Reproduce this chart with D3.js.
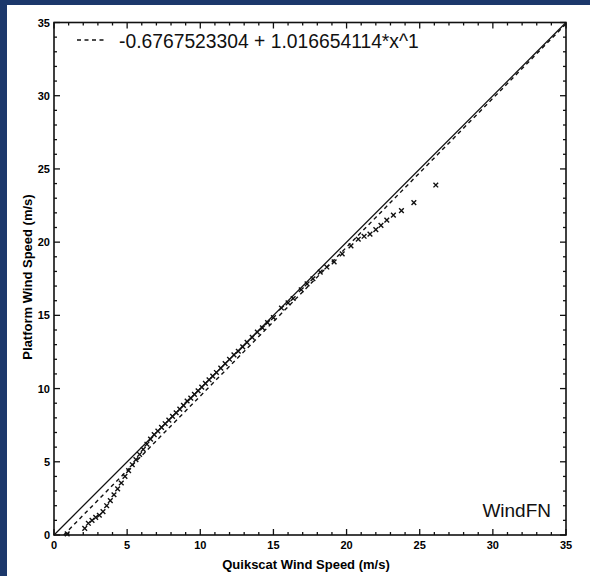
<!DOCTYPE html>
<html>
<head>
<meta charset="utf-8">
<script src="https://cdn.jsdelivr.net/npm/d3@7"></script>
<style>
  html, body { margin: 0; padding: 0; background: #1c386b; }
  svg { display: block; }
  .tick-label { font-family: "Liberation Sans", Arial, sans-serif; font-weight: bold; font-size: 11px; }
  .axis-title { font-family: "Liberation Sans", Arial, sans-serif; font-weight: bold; font-size: 13px; }
</style>
</head>
<body>
<svg id="chart" width="590" height="576"></svg>
<script>
// fit coefficients
var intercept = -0.6767523304;
var slope = 1.016654114;
var legendText = "-0.6767523304 + 1.016654114*x^1";

var xTicks = [0, 5, 10, 15, 20, 25, 30, 35];
var yTicks = [0, 5, 10, 15, 20, 25, 30, 35];

// quikscat speed vs platform speed (matched points)
var quikscat = [0.9, 2.1, 2.35, 2.6, 2.85, 3.1, 3.35, 3.6, 3.85, 4.1, 4.35, 4.6, 4.85, 5.1, 5.35,
  5.6, 5.85, 6.1, 6.35, 6.6, 6.85, 7.1, 7.35, 7.6, 7.85, 8.1, 8.35, 8.6, 8.85, 9.1, 9.35,
  9.6, 9.85, 10.1, 10.35, 10.6, 10.85, 11.1, 11.4, 11.7, 12.0, 12.3, 12.6, 12.9, 13.2, 13.55,
  13.9, 14.25, 14.6, 15.0, 15.55, 16.0, 16.35, 16.9, 17.3, 17.7, 18.2, 18.65, 19.15, 19.7,
  20.3, 20.8, 21.2, 21.6, 22.0, 22.35, 22.75, 23.2, 23.75, 24.6, 26.1];
var platform = [0.08, 0.45, 0.8, 1.0, 1.2, 1.35, 1.6, 2.0, 2.35, 2.75, 3.15, 3.55, 4.0, 4.4, 4.8,
  5.15, 5.5, 5.85, 6.2, 6.55, 6.85, 7.1, 7.35, 7.6, 7.85, 8.1, 8.35, 8.6, 8.85, 9.15, 9.35,
  9.6, 9.85, 10.1, 10.35, 10.6, 10.85, 11.1, 11.4, 11.7, 12.0, 12.3, 12.55, 12.85, 13.15, 13.5,
  13.85, 14.15, 14.5, 14.85, 15.5, 15.85, 16.15, 16.75, 17.15, 17.5, 17.95, 18.3, 18.65, 19.2,
  19.75, 20.2, 20.4, 20.55, 20.85, 21.15, 21.5, 21.85, 22.15, 22.7, 23.9];

var svg = d3.select("#chart");

// white page area
svg.append("rect").attr("x", 7).attr("y", 5).attr("width", 583).attr("height", 571).attr("fill", "#fff");

var x = d3.scaleLinear().domain([0, 35]).range([54, 566]);
var y = d3.scaleLinear().domain([0, 35]).range([535, 22.5]);

var minor = d3.range(0, 36, 1).filter(function(d) { return d % 5 != 0; });

var g = svg.append("g");

// ticks, all pointing inward
function drawTicks(vals, len) {
  vals.forEach(function(v) {
    g.append("line").attr("x1", x(v)).attr("x2", x(v)).attr("y1", y(0)).attr("y2", y(0) - len);
    g.append("line").attr("x1", x(v)).attr("x2", x(v)).attr("y1", y(35)).attr("y2", y(35) + len);
    g.append("line").attr("y1", y(v)).attr("y2", y(v)).attr("x1", x(0)).attr("x2", x(0) + len);
    g.append("line").attr("y1", y(v)).attr("y2", y(v)).attr("x1", x(35)).attr("x2", x(35) - len);
  });
}
drawTicks(xTicks, 6);
drawTicks(minor, 3);
g.selectAll("line").attr("stroke", "#111").attr("stroke-width", 1.3);

// frame
svg.append("rect")
  .attr("x", x(0)).attr("y", y(35))
  .attr("width", x(35) - x(0)).attr("height", y(0) - y(35))
  .attr("fill", "none").attr("stroke", "#111").attr("stroke-width", 1.6);

// tick labels
svg.selectAll(".xl").data(xTicks).enter().append("text")
  .attr("class", "tick-label")
  .attr("x", function(d) { return x(d); })
  .attr("y", 549)
  .attr("text-anchor", "middle")
  .text(function(d) { return d; });

svg.selectAll(".yl").data(yTicks).enter().append("text")
  .attr("class", "tick-label")
  .attr("x", 50)
  .attr("y", function(d) { return y(d) + 4; })
  .attr("text-anchor", "end")
  .text(function(d) { return d; });

// axis titles
svg.append("text").attr("class", "axis-title")
  .attr("x", 306).attr("y", 569).attr("text-anchor", "middle")
  .text("Quikscat Wind Speed (m/s)");

svg.append("text").attr("class", "axis-title")
  .attr("transform", "translate(32,277) rotate(-90)")
  .attr("text-anchor", "middle")
  .text("Platform Wind Speed (m/s)");

// 1:1 line
var line = d3.line().x(function(d) { return x(d[0]); }).y(function(d) { return y(d[1]); });
svg.append("path")
  .attr("d", line([[0, 0], [35, 35]]))
  .attr("fill", "none").attr("stroke", "#111").attr("stroke-width", 1.3);

// fitted line
var x0 = -intercept / slope;
svg.append("path")
  .attr("d", line([[x0, 0], [35, intercept + slope * 35]]))
  .attr("fill", "none").attr("stroke", "#111").attr("stroke-width", 1.4)
  .attr("stroke-dasharray", "4,3.5");

// points
var pts = quikscat.map(function(d, i) { return [d, platform[i]]; });
svg.selectAll(".pt").data(pts).enter().append("path")
  .attr("transform", function(d) { return "translate(" + x(d[0]) + "," + y(d[1]) + ")"; })
  .attr("d", d3.symbol(d3.symbolX, 16))
  .attr("fill", "none").attr("stroke", "#111").attr("stroke-width", 1.4);

// legend
svg.append("line")
  .attr("x1", 77).attr("x2", 104).attr("y1", 40).attr("y2", 40)
  .attr("stroke", "#111").attr("stroke-width", 1.3).attr("stroke-dasharray", "4,3.5");
svg.append("text")
  .attr("x", 119).attr("y", 48)
  .style("font-family", "'Liberation Sans', Arial, sans-serif")
  .style("font-size", "19.3px")
  .attr("fill", "#111")
  .text(legendText);

svg.append("text")
  .attr("x", 551).attr("y", 517).attr("text-anchor", "end")
  .style("font-family", "'Liberation Sans', Arial, sans-serif")
  .style("font-size", "19px")
  .attr("fill", "#111")
  .text("WindFN");
</script>
</body>
</html>
